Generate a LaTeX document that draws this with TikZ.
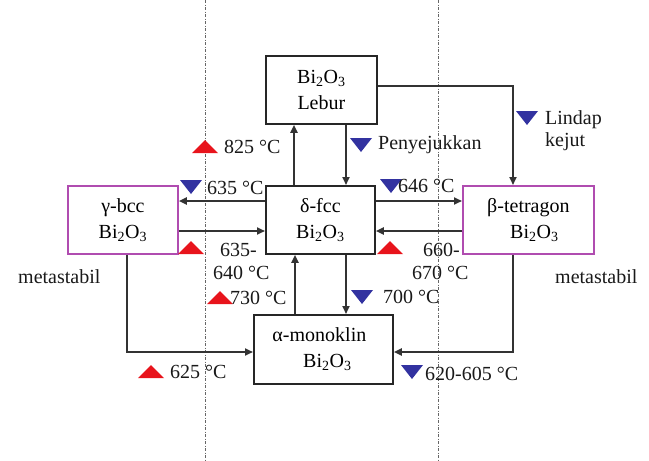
\documentclass[tikz,border=0pt]{standalone}
\usepackage{fontspec}
\setmainfont{Liberation Serif}
\usetikzlibrary{arrows.meta}
\definecolor{upred}{HTML}{E8141C}
\definecolor{dnblue}{HTML}{3232A0}
\definecolor{magbox}{HTML}{B04CB0}
\tikzset{
  every node/.style={font=\fontsize{20}{26}\selectfont, inner sep=0pt},
  box/.style={draw=black!85, line width=1.8pt, fill=white, align=center, anchor=north west},
  mbox/.style={box, draw=magbox},
  lbl/.style={anchor=west, text=black!90},
  conn/.style={line width=1.8pt, draw=black!80, -{Triangle[length=8pt,width=7pt]}},
  guide/.style={draw=black!60, line width=1pt, dash pattern=on 3pt off 1.5pt on 1pt off 1.5pt},
  upt/.pic={\fill[upred] (-13,6) -- (13,6) -- (0,-7) -- cycle;},
  dnt/.pic={\fill[dnblue] (-11,-7) -- (11,-7) -- (0,7) -- cycle;}
}
\newcommand{\bio}{Bi\textsubscript{2}O\textsubscript{3}}
\begin{document}
\begin{tikzpicture}[x=1pt,y=-1pt]
\useasboundingbox (0,0) rectangle (649,461);
% guide lines
\coordinate (gl1) at (205,0); \coordinate (gl2) at (205,461);
\coordinate (gr1) at (438,0); \coordinate (gr2) at (438,461);
\draw[guide] (gl1) -- (gl2);
\draw[guide] (gr1) -- (gr2);
% boxes
\node[box, minimum width=111pt, minimum height=68pt] (lebur) at (265,55) {\bio\\Lebur};
\node[box, minimum width=109pt, minimum height=68pt] (delta) at (265,185) {δ-fcc\\\bio};
\node[mbox, minimum width=110pt, minimum height=68pt] (gamma) at (67,185) {γ-bcc\\\bio};
\node[mbox, minimum width=131pt, minimum height=68pt] (beta) at (462,185) {β-tetragon\\\hspace*{12pt}\bio};
\node[box, minimum width=139pt, minimum height=69pt] (alpha) at (253,314) {α-monoklin\hspace*{8pt}\\\hspace*{8pt}\bio};
% connectors
\draw[conn] (lebur.east |- 0,86) -| (beta.north -| 513,0);
\draw[conn] (delta.north -| 294,0) -- (lebur.south -| 294,0);
\draw[conn] (lebur.south -| 346,0) -- (delta.north -| 346,0);
\draw[conn] (delta.west |- 0,201) -- (gamma.east |- 0,201);
\draw[conn] (gamma.east |- 0,231) -- (delta.west |- 0,231);
\draw[conn] (delta.east |- 0,201) -- (beta.west |- 0,201);
\draw[conn] (beta.west |- 0,231) -- (delta.east |- 0,231);
\draw[conn] (delta.south -| 346,0) -- (alpha.north -| 346,0);
\draw[conn] (alpha.north -| 295,0) -- (delta.south -| 295,0);
\draw[conn] (gamma.south -| 127,0) |- (alpha.west |- 0,352);
\draw[conn] (beta.south -| 513,0) |- (alpha.east |- 0,352);
% markers
\pic at (205,147) {upt};
\pic at (191,187) {dnt};
\pic at (361,145) {dnt};
\pic at (391,186) {dnt};
\pic at (527,118) {dnt};
\pic at (191,248) {upt};
\pic at (220,298) {upt};
\pic at (390,248) {upt};
\pic at (362,297) {dnt};
\pic at (151,372) {upt};
\pic at (412,372) {dnt};
% labels
\node[lbl] (t825) at (224,147) {825 °C};
\node[lbl] (t635) at (207,188) {635 °C};
\node[lbl] (tpen) at (378,145) {Penyejukkan};
\node[lbl] (t646) at (398,186) {646 °C};
\node[lbl] (tlin) at (545,120) {Lindap};
\node[lbl] (tkej) at (545,142) {kejut};
\node[lbl] (t635a) at (220,250) {635-};
\node[lbl] (t640) at (213,273) {640 °C};
\node[lbl] (t730) at (230,298) {730 °C};
\node[lbl] (t660) at (423,250) {660-};
\node[lbl] (t670) at (412,273) {670 °C};
\node[lbl] (t700) at (383,297) {700 °C};
\node[lbl] (t625) at (170,372) {625 °C};
\node[lbl] (t620) at (425,374) {620-605 °C};
\node[lbl] (mL) at (18,277) {metastabil};
\node[lbl] (mR) at (555,277) {metastabil};
\end{tikzpicture}
\end{document}
